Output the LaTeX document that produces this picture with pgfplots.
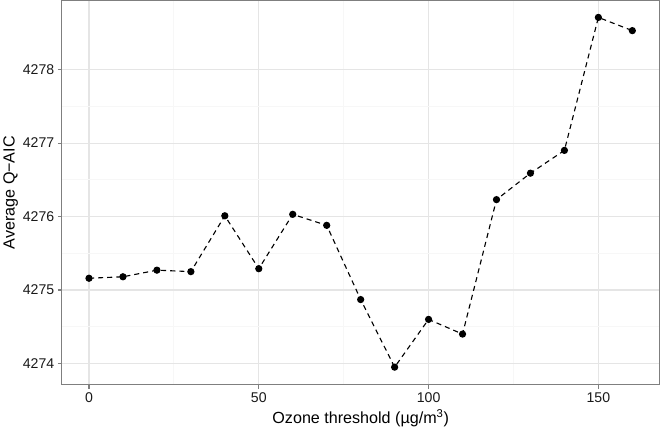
\documentclass[border=0pt]{standalone}
\usepackage{pgfplots}
\pgfplotsset{compat=1.18}
\usepackage{fontspec}
\setmainfont{Liberation Sans}
\definecolor{grey50}{HTML}{7F7F7F}
\definecolor{grey90}{HTML}{E5E5E5}
\definecolor{grey98}{HTML}{F7F7F7}

\begin{document}
\begin{tikzpicture}
    \begin{axis}[
        scale only axis,
        width=591bp,
        height=380bp,
        xmin=-8, xmax=168,
        ymin=4273.71, ymax=4278.94,
        xtick={0,50,100,150},
        ytick={4274,4275,4276,4277,4278},
        minor x tick num=1,
        minor y tick num=1,
        grid=both,
        major grid style={grey90, line width=1bp},
        minor grid style={grey98, line width=0.8bp},
        axis line style={grey50, line width=1bp},
        tick style={grey50, line width=1bp},
        major tick length=4bp,
        minor tick length=0pt,
        tick align=outside,
        xtick pos=bottom,
        ytick pos=left,
        /pgf/number format/assume math mode=true,
        /pgf/number format/1000 sep={},
        ticklabel style={font=\fontsize{14}{16}\selectfont, text=black!90},
        xlabel={Ozone threshold (µg/m\textsuperscript{3})},
        ylabel={Average Q−AIC},
        label style={font=\fontsize{16}{18}\selectfont},
        xlabel style={yshift=0bp},
        ylabel style={yshift=-2bp},
    ]
    \addplot[black, line width=1.1bp, dash pattern=on 5bp off 4bp,
        mark=*, mark size=3bp, mark options={solid, fill=black}]
    coordinates {
        (0, 4275.16)
        (10, 4275.18)
        (20, 4275.27)
        (30, 4275.25)
        (40, 4276.01)
        (50, 4275.29)
        (60, 4276.03)
        (70, 4275.88)
        (80, 4274.87)
        (90, 4273.95)
        (100, 4274.60)
        (110, 4274.40)
        (120, 4276.23)
        (130, 4276.59)
        (140, 4276.90)
        (150, 4278.71)
        (160, 4278.53)
    };
    \end{axis}
\end{tikzpicture}
\end{document}
